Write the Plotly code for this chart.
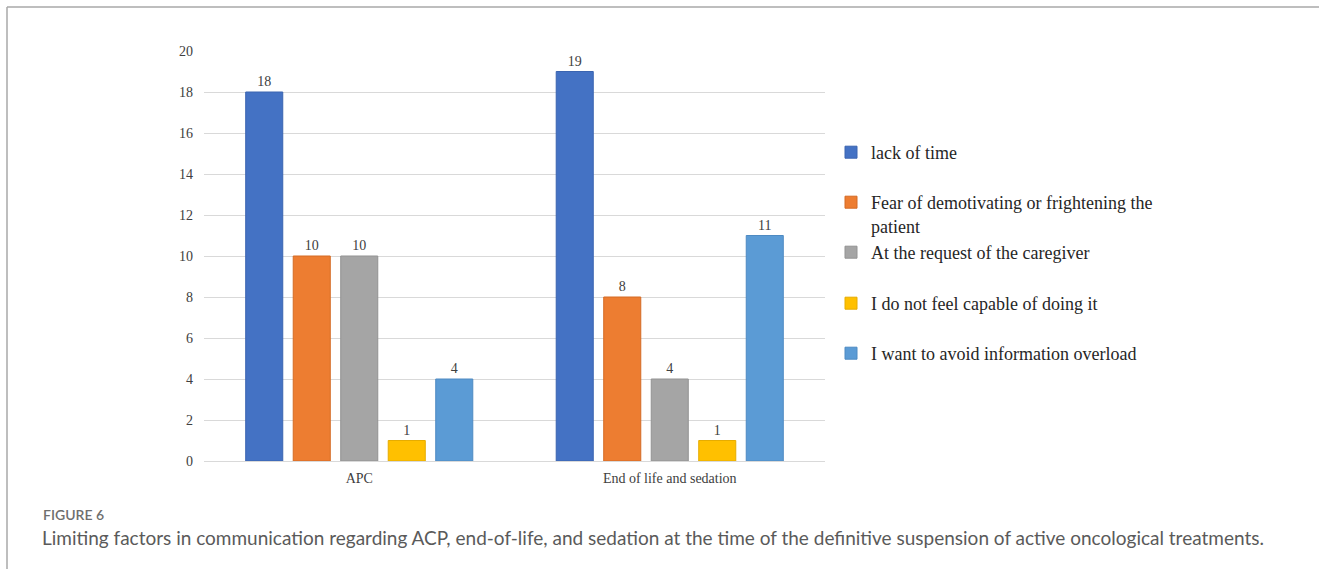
import plotly.graph_objects as go

# Survey counts per limiting factor, for each communication topic
categories = ["APC", "End of life and sedation"]
factors = [
    "lack of time",
    "Fear of demotivating or frightening the<br>patient",
    "At the request of the caregiver",
    "I do not feel capable of doing it",
    "I want to avoid information overload",
]
counts = [
    [18, 19],
    [10, 8],
    [10, 4],
    [1, 1],
    [4, 11],
]
colors = ["#4472C4", "#ED7D31", "#A5A5A5", "#FFC000", "#5B9BD5"]
outlines = ["#3A64B0", "#D46B25", "#939393", "#E6AC00", "#4E8AC2"]
y_ticks = list(range(0, 21, 2))

W, H = 1319, 569
L, R, T, B = 204, 494, 51, 108
plot_w = W - L - R
plot_h = H - T - B


def px_x(x):
    return (x - L) / plot_w


def px_y(y):
    return (H - B - y) / plot_h


serif = "Liberation Serif"
sans = "Lato"

fig = go.Figure()
legend_names = ["legend", "legend2", "legend3", "legend4", "legend5"]
for name, vals, col, oc, lg in zip(factors, counts, colors, outlines, legend_names):
    fig.add_trace(go.Bar(
        x=categories,
        y=vals,
        name=name,
        marker=dict(color=col, line=dict(color=oc, width=1)),
        text=vals,
        textposition="outside",
        textfont=dict(family=serif, size=14, color="#404040"),
        cliponaxis=False,
        legend=lg,
    ))

# one single-entry legend per factor so the entries sit on an even pitch
legend_rows = [153, 203, 253, 304, 354]
legend_common = dict(
    font=dict(family=serif, size=18, color="#262626"),
    bgcolor="rgba(0,0,0,0)",
    xanchor="left",
    yanchor="top",
    valign="top",
    itemclick=False,
)
layout_legends = {}
for lg, row in zip(legend_names, legend_rows):
    layout_legends[lg] = dict(legend_common, x=px_x(831), y=px_y(row - 19))

fig.update_layout(
    width=W,
    height=H,
    margin=dict(l=L, r=R, t=T, b=B),
    paper_bgcolor="white",
    plot_bgcolor="white",
    barmode="group",
    bargap=0.235,
    bargroupgap=0.22,
    showlegend=True,
    **layout_legends,
    xaxis=dict(
        showgrid=False,
        showline=False,
        ticks="",
        ticklabelstandoff=7,
        tickfont=dict(family=serif, size=14, color="#404040"),
    ),
    yaxis=dict(
        range=[0, 20],
        tickvals=y_ticks,
        showgrid=True,
        gridcolor="#D9D9D9",
        gridwidth=1,
        zeroline=True,
        zerolinecolor="#D9D9D9",
        zerolinewidth=1,
        showline=False,
        ticks="",
        ticklabelstandoff=10,
        tickfont=dict(family=serif, size=14, color="#404040"),
    ),
    shapes=[
        dict(type="line", xref="paper", yref="paper",
             x0=px_x(7), x1=px_x(W + 5), y0=px_y(7), y1=px_y(7),
             line=dict(color="#A8A8A8", width=1.5)),
        dict(type="line", xref="paper", yref="paper",
             x0=px_x(7), x1=px_x(7), y0=px_y(7), y1=px_y(H + 5),
             line=dict(color="#A8A8A8", width=1.5)),
    ],
    annotations=[
        dict(text="FIGURE 6", xref="paper", yref="paper",
             x=px_x(41), y=px_y(514), xanchor="left", yanchor="middle",
             showarrow=False,
             font=dict(family=sans, size=14, color="#6E6E6E", weight=600)),
        dict(text="Limiting factors in communication regarding ACP, end-of-life, and sedation "
                  "at the time of the definitive suspension of active oncological treatments.",
             xref="paper", yref="paper",
             x=px_x(40), y=px_y(537), xanchor="left", yanchor="middle",
             showarrow=False,
             font=dict(family=sans, size=19, color="#5A5A5A")),
    ],
)

fig.write_html("out.html")
